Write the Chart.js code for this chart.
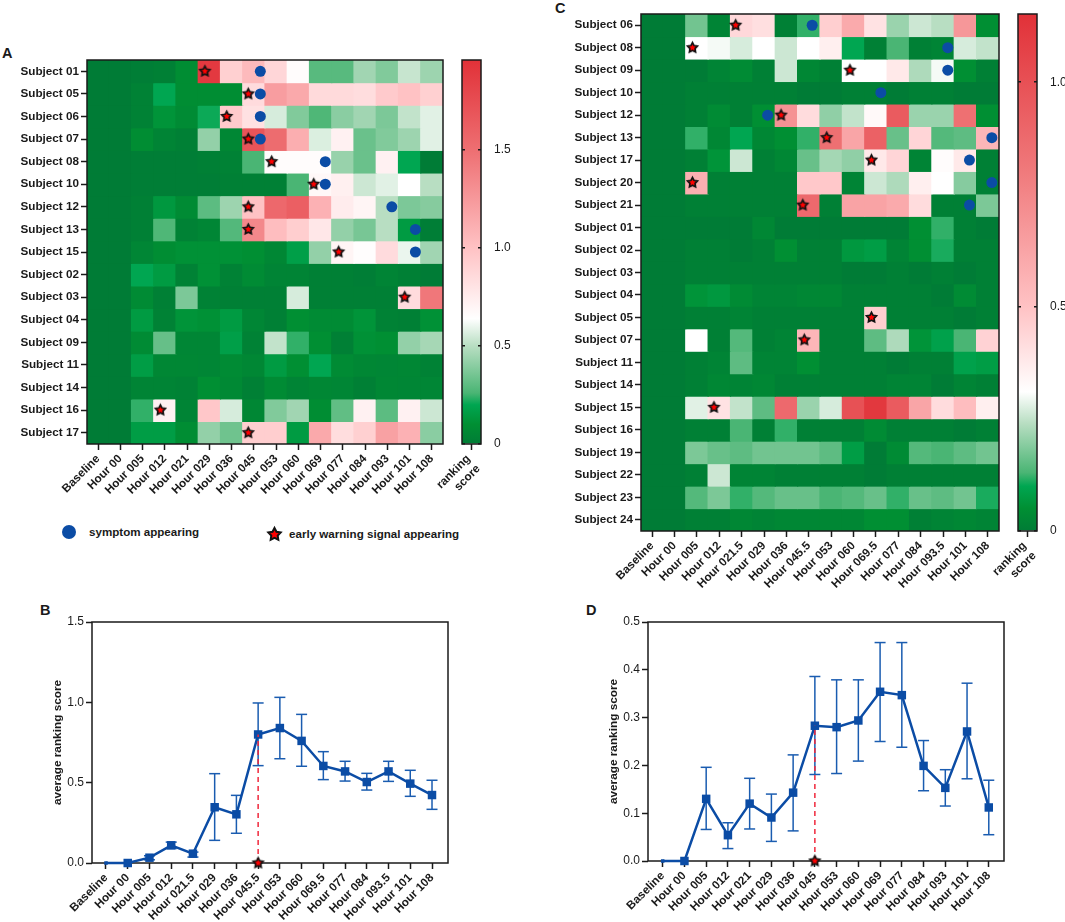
<!DOCTYPE html>
<html>
<head>
<meta charset="utf-8">
<title>ranking score</title>
<script src="https://cdn.jsdelivr.net/npm/chart.js@4"></script>
<style>
	html, body { margin: 0; padding: 0; background: #fff; }
	#page { position: relative; width: 1065px; height: 922px; overflow: hidden; font-family: "Liberation Sans", Arial, sans-serif; color: #1a1a1a; }
	#page canvas { position: absolute; }
	.letter { position: absolute; font-weight: bold; font-size: 14.5px; line-height: 16px; }
	.key { position: absolute; font-weight: bold; font-size: 11.6px; line-height: 14px; white-space: nowrap; }
	.dot { position: absolute; width: 14px; height: 14px; border-radius: 50%; background: #0b4ca5; }
</style>
</head>
<body>
<div id="page">
	<div class="letter" style="left:2px;top:45px">A</div>
	<div class="letter" style="left:40px;top:602px">B</div>
	<div class="letter" style="left:555px;top:0px">C</div>
	<div class="letter" style="left:586px;top:602px">D</div>
	<div class="dot" style="left:62px;top:525px"></div>
	<div class="key" style="left:89px;top:525px">symptom appearing</div>
	<div class="key" style="left:289px;top:527px">early warning signal appearing</div>
</div>

<script>
// panel A
var hoursA = ['Baseline', 'Hour 00', 'Hour 005', 'Hour 012', 'Hour 021', 'Hour 029', 'Hour 036', 'Hour 045', 'Hour 053', 'Hour 060', 'Hour 069', 'Hour 077', 'Hour 084', 'Hour 093', 'Hour 101', 'Hour 108'];
var subjectsA = ['Subject 01', 'Subject 05', 'Subject 06', 'Subject 07', 'Subject 08', 'Subject 10', 'Subject 12', 'Subject 13', 'Subject 15', 'Subject 02', 'Subject 03', 'Subject 04', 'Subject 09', 'Subject 11', 'Subject 14', 'Subject 16', 'Subject 17'];
var scoresA = [
	[0, 0, .01, .02, .09, 1.9, .92, 1.05, .88, .66, .29, .29, .45, .38, .53, .44],
	[0, 0, .03, .2, .09, .09, .09, .85, 1.22, 1.15, .86, .86, .84, .95, 1.0, .92],
	[0, 0, .03, .12, .08, .21, .95, .82, .56, .38, .27, .4, .45, .37, .52, .58],
	[0, 0, .09, .04, .02, .42, .06, 1.7, 1.52, 1.12, .57, .72, .33, .38, .44, .58],
	[0, 0, .01, .01, .01, .02, .03, .26, .66, .66, .66, .43, .33, .72, .2, 0],
	[0, 0, .01, .01, .01, .01, .02, .02, .02, .26, .68, .73, .54, .58, .64, .5],
	[0, 0, .02, .14, .08, .3, .44, 1.0, 1.55, 1.62, 1.1, .75, .7, .5, .37, .39],
	[0, 0, .02, .27, .03, .05, .28, 1.35, 1.03, .93, .78, .42, .36, .5, .15, .01],
	[0, 0, .05, .09, .11, .11, .11, .1, .06, .17, .42, .7, .65, .85, .6, .45],
	[0, 0, .2, .15, .03, .11, .03, .08, .04, .04, .02, .02, .01, .04, .02, 0],
	[0, 0, .08, .02, .37, .03, .02, .02, .02, .56, .02, .02, .02, .02, .85, 1.45],
	[0, 0, .15, .03, .12, .11, .15, .05, .02, .1, .08, .08, .12, .03, .02, .11],
	[0, 0, .08, .32, .05, .05, .17, .03, .52, .24, .1, .02, .11, .1, .42, .46],
	[0, 0, .16, .06, .06, .05, .08, .06, .15, .1, .2, .08, .06, .05, .06, .03],
	[0, 0, .04, .04, .03, .1, .07, .02, .08, .04, .06, .05, .02, .06, .05, .05],
	[0, 0, .24, .72, .04, .97, .56, .06, .38, .45, .09, .31, .72, .3, .72, .54],
	[0, 0, .16, .16, .09, .42, .34, .93, .93, .15, 1.15, .84, .92, 1.2, 1.1, .4]
];
var symptomsA = [[7.29, 0], [7.29, 1], [7.29, 2], [7.29, 3], [10.21, 4], [10.21, 5], [13.2, 6], [14.26, 7], [14.26, 8]];
var warningsA = [[4.8, 0], [6.75, 1], [5.78, 2], [6.75, 3], [7.8, 4], [9.69, 5], [6.75, 6], [6.75, 7], [10.81, 8], [13.78, 10], [2.8, 15], [6.75, 16]];

// panel B
var hoursB = ['Baseline', 'Hour 00', 'Hour 005', 'Hour 012', 'Hour 021.5', 'Hour 029', 'Hour 036', 'Hour 045.5', 'Hour 053', 'Hour 060', 'Hour 069.5', 'Hour 077', 'Hour 084', 'Hour 093.5', 'Hour 101', 'Hour 108'];
var meanB = [0, 0, .033, .11, .058, .347, .303, .8, .84, .76, .604, .57, .504, .57, .494, .423];
var lowB = [null, null, .02, .09, .037, .141, .185, .606, .649, .602, .519, .51, .454, .508, .415, .334];
var highB = [null, null, .045, .13, .068, .556, .421, .996, 1.031, .925, .693, .633, .558, .633, .577, .515];

// panel C
var hoursC = ['Baseline', 'Hour 00', 'Hour 005', 'Hour 012', 'Hour 021.5', 'Hour 029', 'Hour 036', 'Hour 045.5', 'Hour 053', 'Hour 060', 'Hour 069.5', 'Hour 077', 'Hour 084', 'Hour 093.5', 'Hour 101', 'Hour 108'];
var subjectsC = ['Subject 06', 'Subject 08', 'Subject 09', 'Subject 10', 'Subject 12', 'Subject 13', 'Subject 17', 'Subject 20', 'Subject 21', 'Subject 01', 'Subject 02', 'Subject 03', 'Subject 04', 'Subject 05', 'Subject 07', 'Subject 11', 'Subject 14', 'Subject 15', 'Subject 16', 'Subject 19', 'Subject 22', 'Subject 23', 'Subject 24'];
var scoresC = [
	[0, 0, .17, .02, .43, .41, .01, .12, .46, .6, .4, .21, .26, .24, .68, .05],
	[0, 0, .31, .3, .27, .31, .26, .31, .36, .1, .01, .13, .01, .02, .27, .25],
	[0, 0, 0, .02, .04, .01, .26, .03, .01, .31, .31, .38, .23, .3, .05, .01],
	[0, 0, .01, .01, .01, .01, .01, 0, 0, .01, .01, 0, .01, .01, 0, 0],
	[0, 0, .01, .04, .01, .05, .7, .42, .2, .25, .33, .95, .21, .21, .85, .05],
	[0, 0, .12, .03, .1, .03, .05, .12, .85, .62, .92, .16, .44, .14, .15, .55],
	[0, 0, .01, .06, .26, .01, .03, .16, .22, .2, .38, .44, .02, .32, .38, .01],
	[0, 0, .58, .01, .01, .01, .01, .48, .48, .02, .26, .23, .36, .31, .19, .01],
	[0, 0, .01, .01, .01, .01, .01, .88, .01, .63, .63, .6, .42, .01, .01, .18],
	[0, 0, 0, 0, 0, .03, 0, 0, 0, 0, 0, 0, .05, .12, .01, 0],
	[0, 0, .01, .01, 0, .01, .05, .01, .01, .07, .08, .02, .05, .11, .01, .01],
	[0, 0, .01, .01, .01, .01, .01, .01, .01, 0, 0, .01, 0, .01, 0, .01],
	[0, 0, .06, .07, .04, .02, .02, .03, .03, .01, .01, .01, .01, 0, .04, .01],
	[0, 0, .01, .01, .02, .01, .01, .01, .01, .01, .46, .01, .01, .01, 0, .01],
	[0, 0, .31, .01, .14, .01, .02, .55, .01, .01, .15, .23, .06, .09, .13, .45],
	[0, 0, .01, .02, .15, .02, .02, .05, .01, .01, .01, 0, .01, .01, .09, .08],
	[0, 0, .01, .03, .02, .03, .01, .01, .01, .01, .01, .02, .02, 0, .02, .01],
	[0, 0, .28, .4, .25, .15, .88, .21, .27, 1.0, 1.12, .95, .62, .42, .52, .36],
	[0, 0, .01, .01, .13, .01, .12, .01, .01, .01, .04, .01, .01, .01, 0, .01],
	[0, 0, .18, .16, .15, .17, .17, .17, .15, .08, 0, .04, .14, .13, .15, .17],
	[0, 0, .01, .26, .02, .02, .01, .01, .01, .01, 0, .01, .01, .01, .01, .01],
	[0, 0, .14, .18, .12, .14, .16, .16, .13, .14, .16, .12, .16, .15, .17, .11],
	[0, 0, .01, .01, .03, .02, .03, .03, .03, .03, .05, .05, .01, .02, .03, .02]
];
var symptomsC = [[7.15, 0], [13.21, 1], [13.21, 2], [10.22, 3], [5.16, 4], [15.18, 5], [14.18, 6], [15.18, 7], [14.18, 8]];
var warningsC = [[3.73, 0], [1.8, 1], [8.84, 2], [5.76, 4], [7.8, 5], [9.8, 6], [1.8, 7], [6.73, 8], [9.8, 13], [6.8, 14], [2.76, 17]];

// panel D
var hoursD = ['Baseline', 'Hour 00', 'Hour 005', 'Hour 012', 'Hour 021', 'Hour 029', 'Hour 036', 'Hour 045', 'Hour 053', 'Hour 060', 'Hour 069', 'Hour 077', 'Hour 084', 'Hour 093', 'Hour 101', 'Hour 108'];
var meanD = [0, 0, .13, .054, .12, .091, .143, .283, .28, .294, .354, .347, .199, .153, .271, .112];
var lowD = [null, null, .066, .026, .067, .041, .063, .181, .183, .209, .25, .238, .147, .115, .172, .055];
var highD = [null, null, .196, .08, .173, .14, .222, .386, .379, .379, .457, .457, .252, .191, .372, .169];

// index of the hour that carries the warning star in B and D
var warningHour = 7;

// colour ramps, [score, colour]
var rampA = [[0, '#007c36'], [.1, '#008f33'], [.2, '#00a651'], [.26, '#4ab574'], [.5, '#b8dec2'], [.64, '#ffffff'], [1, '#ffc2c4'], [1.5, '#ee6f72'], [1.96, '#e13138']];
var rampC = [[0, '#007c36'], [.05, '#008f33'], [.1, '#00a651'], [.13, '#4ab574'], [.24, '#b8dec2'], [.31, '#ffffff'], [.5, '#ffc2c4'], [.8, '#f07a7c'], [1.152, '#e13138']];

var INK = '#1a1a1a';
var BLUE = '#0b4ca5';
var LABEL_FONT = { size: 11.7, weight: 'bold' };

Chart.defaults.font.family = '"Liberation Sans", Arial, sans-serif';
Chart.defaults.animation = false;
Chart.defaults.responsive = false;
Chart.defaults.plugins.legend.display = false;
Chart.defaults.plugins.tooltip.enabled = false;

function hex(c) {
	return [parseInt(c.substr(1, 2), 16), parseInt(c.substr(3, 2), 16), parseInt(c.substr(5, 2), 16)];
}

function colorOf(ramp, v) {
	for (var i = 1; i < ramp.length; i++) {
		if (v <= ramp[i][0]) {
			var t = (v - ramp[i - 1][0]) / (ramp[i][0] - ramp[i - 1][0]);
			var a = hex(ramp[i - 1][1]), b = hex(ramp[i][1]);
			return 'rgb(' + a.map(function(ch, k) { return Math.round(ch + (b[k] - ch) * t); }).join(',') + ')';
		}
	}
	return ramp[ramp.length - 1][1];
}

function starCanvas(outer, stroke) {
	var size = Math.ceil(outer * 2 + 6);
	var c = document.createElement('canvas');
	c.width = size;
	c.height = size;
	var g = c.getContext('2d');
	g.beginPath();
	for (var i = 0; i < 10; i++) {
		var r = i % 2 ? outer * 0.52 : outer;
		var a = -Math.PI / 2 + i * Math.PI / 5;
		g.lineTo(size / 2 + r * Math.cos(a), size / 2 + r * Math.sin(a));
	}
	g.closePath();
	g.lineWidth = stroke;
	g.strokeStyle = '#111';
	g.fillStyle = '#ff0000';
	g.fill();
	g.stroke();
	return c;
}

var star = starCanvas(5.2, 1.7);

// frame goes over the cells, but under the markers of the line charts
var frame = {
	id: 'frame',
	beforeDatasetsDraw: function(chart) {
		if (chart.config.type === 'line') strokeFrame(chart);
	},
	afterDatasetsDraw: function(chart) {
		if (chart.config.type !== 'line') strokeFrame(chart);
	}
};

function strokeFrame(chart) {
	var a = chart.chartArea, g = chart.ctx;
	g.save();
	g.strokeStyle = INK;
	g.lineWidth = 1.5;
	g.strokeRect(a.left, a.top, a.right - a.left, a.bottom - a.top);
	g.restore();
}

// canvas placed so that the plot area lands on the given rect
function panel(rect, m) {
	var c = document.createElement('canvas');
	c.width = rect[2] + m.left + m.right;
	c.height = rect[3] + m.top + m.bottom;
	c.style.left = (rect[0] - m.left) + 'px';
	c.style.top = (rect[1] - m.top) + 'px';
	document.getElementById('page').appendChild(c);
	return c;
}

function bottomAxis(m, extra) {
	return Object.assign({
		afterFit: function(s) { s.height = m.bottom; },
		border: { display: false },
		grid: { drawOnChartArea: false, drawTicks: true, tickLength: 6, tickColor: INK, tickWidth: 1.5, offset: false },
		ticks: { autoSkip: false, minRotation: 45, maxRotation: 45, padding: 2, color: INK, font: LABEL_FONT }
	}, extra);
}

function heatmap(rect, hours, subjects, scores, ramp, symptoms, warnings) {
	var m = { left: 87, right: 10, top: 12, bottom: 80 };
	var datasets = [{
		type: 'scatter',
		xAxisID: 'xMark',
		order: -2,
		clip: false,
		data: symptoms.map(function(p) { return { x: p[0], y: p[1] }; }),
		pointStyle: 'circle',
		pointRadius: 5.5,
		pointBackgroundColor: BLUE,
		pointBorderWidth: 0
	}, {
		type: 'scatter',
		xAxisID: 'xMark',
		order: -1,
		clip: false,
		data: warnings.map(function(p) { return { x: p[0], y: p[1] }; }),
		pointStyle: star
	}];
	scores.forEach(function(row, r) {
		datasets.push({
			label: subjects[r],
			grouped: false,
			barPercentage: 1,
			categoryPercentage: 1,
			borderWidth: 0,
			inflateAmount: 0.6,
			data: row.map(function() { return [r - 0.5, r + 0.5]; }),
			backgroundColor: row.map(function(v) { return colorOf(ramp, v); })
		});
	});
	new Chart(panel(rect, m), {
		type: 'bar',
		data: { labels: hours, datasets: datasets },
		plugins: [frame],
		options: {
			layout: { padding: { top: m.top, right: m.right } },
			scales: {
				x: bottomAxis(m, {}),
				xMark: { type: 'linear', display: false, offset: false, min: -0.5, max: hours.length - 0.5 },
				y: {
					type: 'linear',
					reverse: true,
					min: -0.5,
					max: subjects.length - 0.5,
					afterFit: function(s) { s.width = m.left; },
					afterBuildTicks: function(s) { s.ticks = subjects.map(function(n, i) { return { value: i }; }); },
					border: { display: false },
					grid: { drawOnChartArea: false, drawTicks: true, tickLength: 6, tickColor: INK, tickWidth: 1.5 },
					ticks: {
						autoSkip: false,
						padding: 2,
						color: INK,
						font: LABEL_FONT,
						callback: function(v) { return subjects[v]; }
					}
				}
			}
		}
	});
}

function colorbar(rect, ramp, ticks) {
	// margins have to hold the slanted label and the tick padding, or the layout squeezes the bar
	var m = { left: 60, right: 40, top: 24, bottom: 80 };
	var top = ramp[ramp.length - 1][0];
	new Chart(panel(rect, m), {
		type: 'bar',
		data: {
			labels: [['ranking', 'score']],
			datasets: [{
				data: [[0, top]],
				barPercentage: 1,
				categoryPercentage: 1,
				backgroundColor: function(ctx) {
					var area = ctx.chart.chartArea;
					if (!area) return ramp[0][1];
					var g = ctx.chart.ctx.createLinearGradient(0, area.bottom, 0, area.top);
					ramp.forEach(function(s) { g.addColorStop(s[0] / top, s[1]); });
					return g;
				}
			}]
		},
		plugins: [frame],
		options: {
			layout: { padding: { top: m.top, left: m.left } },
			scales: {
				x: bottomAxis(m, {
					ticks: { autoSkip: false, minRotation: 45, maxRotation: 45, padding: 2, labelOffset: -3, color: INK, font: LABEL_FONT }
				}),
				y: {
					position: 'right',
					min: 0,
					max: top,
					afterFit: function(s) { s.width = m.right; },
					afterBuildTicks: function(s) { s.ticks = ticks.map(function(v) { return { value: v }; }); },
					border: { display: false, dash: [3, 13] },
					grid: { z: 1, color: INK, lineWidth: 1.5, drawTicks: false },
					ticks: {
						padding: 13,
						color: INK,
						font: { size: 12 },
						callback: function(v) { return v === 0 ? '0' : v.toFixed(1); }
					}
				}
			}
		}
	});
}

function lineChart(rect, hours, mean, low, high, yTicks, xRange) {
	var m = { left: 41, right: 10, top: 12, bottom: 62 };
	var datasets = [{
		order: -3,
		clip: false,
		showLine: false,
		data: [{ x: warningHour, y: 0 }],
		pointStyle: star
	}, {
		order: -2,
		clip: false,
		borderColor: '#f0283c',
		borderWidth: 1.5,
		borderDash: [5, 4],
		pointRadius: 0,
		data: [{ x: warningHour, y: 0 }, { x: warningHour, y: mean[warningHour] }]
	}, {
		order: -1,
		clip: false,
		borderColor: BLUE,
		borderWidth: 2.5,
		pointStyle: 'rect',
		pointRadius: mean.map(function(v, i) { return i === 0 ? 2.5 : 6; }),
		pointBackgroundColor: BLUE,
		pointBorderWidth: 0,
		data: mean.map(function(v, i) { return { x: i, y: v }; })
	}];
	mean.forEach(function(v, i) {
		if (low[i] === null) return;
		datasets.push({
			clip: false,
			borderColor: '#1a5cb0',
			borderWidth: 1.5,
			pointStyle: 'line',
			pointRadius: 5.5,
			pointBorderColor: '#1a5cb0',
			pointBorderWidth: 1.5,
			data: [{ x: i, y: low[i] }, { x: i, y: high[i] }]
		});
	});
	new Chart(panel(rect, m), {
		type: 'line',
		data: { datasets: datasets },
		plugins: [frame],
		options: {
			layout: { padding: { top: m.top, right: m.right } },
			scales: {
				x: bottomAxis(m, {
					type: 'linear',
					min: xRange[0],
					max: xRange[1],
					afterBuildTicks: function(s) { s.ticks = hours.map(function(n, i) { return { value: i }; }); },
					ticks: {
						autoSkip: false,
						minRotation: 45,
						maxRotation: 45,
						padding: 2,
						color: INK,
						font: LABEL_FONT,
						callback: function(v) { return hours[v]; }
					}
				}),
				y: {
					min: 0,
					max: yTicks[yTicks.length - 1],
					afterFit: function(s) { s.width = m.left; },
					afterBuildTicks: function(s) { s.ticks = yTicks.map(function(v) { return { value: v }; }); },
					border: { display: false },
					grid: { drawOnChartArea: false, drawTicks: true, tickLength: 6, tickColor: INK, tickWidth: 1.5 },
					title: { display: true, text: 'average ranking score', color: INK, padding: 0, font: { size: 11.8, weight: 'bold' } },
					ticks: {
						padding: 2,
						color: INK,
						font: { size: 12 },
						callback: function(v) { return v.toFixed(1); }
					}
				}
			}
		}
	});
}

heatmap([87, 60, 356, 384], hoursA, subjectsA, scoresA, rampA, symptomsA, warningsA);
colorbar([462, 60, 19, 384], rampA, [0, .5, 1, 1.5]);
heatmap([641, 14, 358, 517], hoursC, subjectsC, scoresC, rampC, symptomsC, warningsC);
colorbar([1018, 14, 19, 517], rampC, [0, .5, 1]);
lineChart([92, 622, 356, 241], hoursB, meanB, lowB, highB, [0, .5, 1, 1.5], [-0.644, 15.736]);
lineChart([648, 622, 356, 239], hoursD, meanD, lowD, highD, [0, .1, .2, .3, .4, .5], [-0.676, 15.7]);

// legend star for panel A
var keyStar = starCanvas(6.5, 2);
keyStar.style.left = (274 - keyStar.width / 2) + 'px';
keyStar.style.top = (534 - keyStar.height / 2) + 'px';
document.getElementById('page').appendChild(keyStar);
</script>
</body>
</html>
